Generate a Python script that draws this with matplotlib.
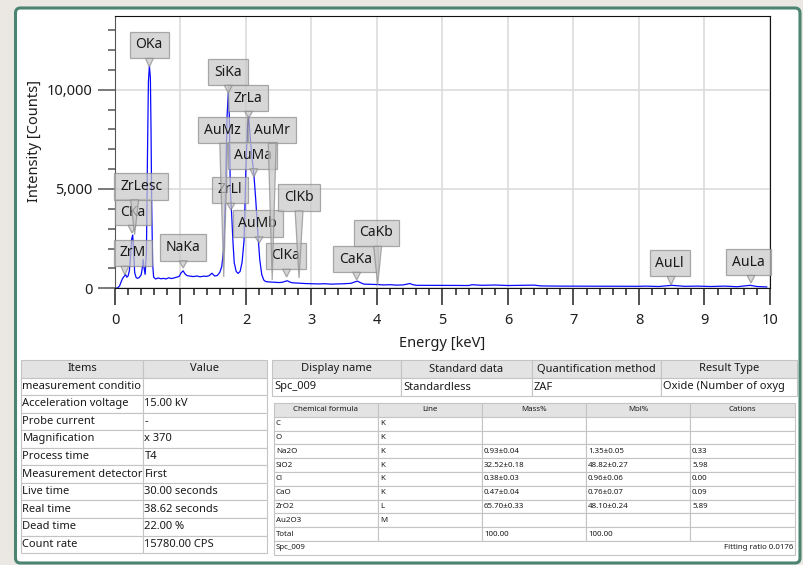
import matplotlib.pyplot as plt
from matplotlib.patches import Rectangle, Polygon, FancyBboxPatch
from matplotlib.ticker import MultipleLocator, FuncFormatter

plt.rcParams['font.family'] = ['Noto Sans', 'DejaVu Sans']

# EDS spectrum (keV, counts)
energy = [0.00, 0.04, 0.07, 0.10, 0.12, 0.14, 0.16, 0.18, 0.20, 0.22, 0.24, 0.255, 0.27, 0.285,
          0.30, 0.32, 0.34, 0.37, 0.40, 0.42, 0.43, 0.445, 0.46, 0.48, 0.495, 0.51, 0.525, 0.54,
          0.55, 0.56, 0.575, 0.59, 0.62, 0.66, 0.70, 0.74, 0.78, 0.82, 0.86, 0.90, 0.94, 0.98,
          1.01, 1.04, 1.07, 1.10, 1.15, 1.20, 1.25, 1.30, 1.35, 1.40, 1.44, 1.48, 1.52, 1.56,
          1.60, 1.63, 1.66, 1.69, 1.71, 1.73, 1.745, 1.76, 1.78, 1.80, 1.82, 1.85, 1.88, 1.91,
          1.94, 1.97, 2.00, 2.02, 2.04, 2.06, 2.09, 2.12, 2.15, 2.18, 2.21, 2.24, 2.27, 2.30,
          2.35, 2.40, 2.45, 2.50, 2.55, 2.60, 2.63, 2.66, 2.70, 2.75, 2.80, 2.85, 2.90, 3.00,
          3.10, 3.20, 3.30, 3.40, 3.50, 3.60, 3.66, 3.70, 3.75, 3.80, 3.90, 4.00, 4.10, 4.20,
          4.30, 4.40, 4.50, 4.55, 4.60, 4.80, 5.00, 5.20, 5.40, 5.45, 5.60, 5.80, 6.00, 6.20,
          6.40, 6.50, 6.80, 7.10, 7.40, 7.70, 8.00, 8.10, 8.30, 8.50, 8.70, 8.90, 9.10, 9.30,
          9.50, 9.70, 9.80, 9.95]
counts = [0, 20, 120, 380, 520, 600, 700, 560, 620, 900, 1700, 2500, 2680, 1900,
          800, 560, 500, 540, 680, 1100, 1450, 1000, 700, 1800, 6500, 10400, 11200, 10600,
          8000, 4200, 1200, 560, 470, 520, 480, 500, 470, 530, 490, 520, 560, 600,
          780, 880, 720, 640, 610, 590, 620, 580, 610, 600, 640, 760, 620, 640,
          800, 1100, 2000, 5200, 8600, 9850, 8700, 5000, 3800, 2400, 1300, 850, 750, 850,
          1300, 2400, 6200, 8000, 8650, 7800, 6600, 5750, 4400, 2800, 1450, 700, 420, 340,
          320, 310, 300, 290, 300, 350, 380, 330, 280, 270, 260, 250, 240, 230,
          220, 230, 210, 220, 230, 250, 320, 360, 280, 210, 200, 190, 170, 180,
          160, 170, 240, 180, 150, 150, 150, 145, 140, 180, 150, 165, 140, 150,
          160, 120, 110, 110, 105, 100, 100, 110, 90, 150, 100, 110, 90, 110,
          80, 150, 90, 70]

# peak identification
peak_names = ['ZrM', 'CKa', 'ZrLesc', 'OKa', 'NaKa', 'AuMz', 'SiKa', 'ZrLl', 'ZrLa',
              'AuMr', 'AuMa', 'AuMb', 'ClKa', 'ClKb', 'CaKa', 'CaKb', 'AuLl', 'AuLa']
peak_energy = [0.15, 0.26, 0.30, 0.525, 1.04, 1.66, 1.73, 1.77, 2.04,
               2.40, 2.12, 2.20, 2.62, 2.81, 3.69, 4.01, 8.49, 9.71]
peak_tip = [670, 2780, 2700, 11140, 1020, 570, 9830, 3940, 8570,
            420, 5600, 2280, 570, 520, 420, 170, 170, 270]
# callout box centres (keV, counts)
box_x = [0.275, 0.275, 0.40, 0.52, 1.04, 1.64, 1.725, 1.76, 2.03,
         2.40, 2.10, 2.18, 2.61, 2.81, 3.67, 3.99, 8.47, 9.67]
box_y = [1780, 3840, 5125, 12250, 2055, 7970, 10890, 4950, 9580,
         7970, 6690, 3260, 1630, 4570, 1475, 2785, 1270, 1320]

# measurement conditions
cond_items = ['measurement conditio', 'Acceleration voltage', 'Probe current', 'Magnification',
              'Process time', 'Measurement detector', 'Live time', 'Real time', 'Dead time',
              'Count rate']
cond_values = ['', '15.00 kV', '-', 'x 370', 'T4', 'First', '30.00 seconds', '38.62 seconds',
               '22.00 %', '15780.00 CPS']

info_header = ['Display name', 'Standard data', 'Quantification method', 'Result Type']
info_row = ['Spc_009', 'Standardless', 'ZAF', 'Oxide (Number of oxyg']

chem_header = ['Chemical formula', 'Line', 'Mass%', 'Mol%', 'Cations']
formula = ['C', 'O', 'Na2O', 'SiO2', 'Cl', 'CaO', 'ZrO2', 'Au2O3', 'Total']
line = ['K', 'K', 'K', 'K', 'K', 'K', 'L', 'M', '']
mass = ['', '', '0.93±0.04', '32.52±0.18', '0.38±0.03', '0.47±0.04', '65.70±0.33', '', '100.00']
mol = ['', '', '1.35±0.05', '48.82±0.27', '0.96±0.06', '0.76±0.07', '48.10±0.24', '', '100.00']
cations = ['', '', '0.33', '5.98', '0.00', '0.09', '5.89', '', '']

fig = plt.figure(figsize=(8.04, 5.65), dpi=100, facecolor='#ebe8e4')

# background layer in pixel coordinates
bg = fig.add_axes([0, 0, 1, 1], zorder=0)
bg.set_xlim(0, 804)
bg.set_ylim(565, 0)
bg.axis('off')
bg.add_patch(FancyBboxPatch((15.5, 8), 784.5, 555, boxstyle='round,pad=0,rounding_size=5',
                            fc='white', ec='#4b8470', lw=2.2))

# spectrum
ax = fig.add_axes([115 / 804, 1 - 288.3 / 565, 655 / 804, 272.3 / 565], zorder=1)
ax.plot(energy, counts, color='#0a0aff', lw=0.9, zorder=2)
ax.set_xlim(0, 10)
ax.set_ylim(0, 13710)
ax.xaxis.set_major_locator(MultipleLocator(1))
ax.xaxis.set_minor_locator(MultipleLocator(0.2))
ax.yaxis.set_major_locator(MultipleLocator(5000))
ax.yaxis.set_minor_locator(MultipleLocator(1000))
ax.yaxis.set_major_formatter(FuncFormatter(lambda v, p: f'{int(v):,}'))
ax.grid(True, which='major', color='#dcdcdc', lw=1.2)
ax.set_axisbelow(True)
for s in ['top', 'right', 'bottom']:
    ax.spines[s].set_color('#111111')
ax.spines['left'].set_color('#555555')
ax.tick_params(axis='x', which='major', length=12, width=1.1, color='#222222', labelsize=10.5, pad=6,
               labelcolor='#1e1e1e')
ax.tick_params(axis='x', which='minor', length=5, width=1.1, color='#222222')
ax.tick_params(axis='y', which='major', length=12, width=1.1, color='#555555', labelsize=10.5, pad=4,
               labelcolor='#1e1e1e')
ax.tick_params(axis='y', which='minor', length=5, width=1.1, color='#555555')
ax.set_xlabel('Energy [keV]', fontsize=10.5, color='#1e1e1e')
ax.set_ylabel('Intensity [Counts]', fontsize=10.5, color='#1e1e1e')
ax.xaxis.set_label_coords(0.5, -0.175)
ax.yaxis.set_label_coords(-0.112, 0.54)

# peak callouts
box_fc, box_ec = '#c8c8c8', '#8c8c8c'
labels = []
for name, xb, yb in zip(peak_names, box_x, box_y):
    t = ax.text(xb, yb, name, ha='center', va='center', fontsize=10, color='#1a1a1a', zorder=4,
                bbox=dict(boxstyle='square,pad=0.42', fc=box_fc, ec=box_ec, lw=0.9, alpha=0.72))
    labels.append(t)
fig.canvas.draw()
rend = fig.canvas.get_renderer()
inv = ax.transData.inverted()
for t, e, tip in zip(labels, peak_energy, peak_tip):
    bb = t.get_bbox_patch().get_window_extent(rend)
    ybot = inv.transform((0, bb.y0))[1]
    ax.add_patch(Polygon([(e - 0.06, ybot), (e + 0.06, ybot), (e, tip)], closed=True,
                         fc=box_fc, ec=box_ec, lw=0.9, alpha=0.72, zorder=4))

# tables
grid_c = '#c4c4c4'
head_c = '#e3e3e3'
txt_c = '#1a1a1a'


def cell(x0, x1, y0, y1, fc):
    bg.add_patch(Rectangle((x0, y0), x1 - x0, y1 - y0, fc=fc, ec=grid_c, lw=0.8))


# measurement conditions table
lx = [21, 143, 267]
ltop, lh = 360, 17.55
for c, h in enumerate(['Items', 'Value']):
    cell(lx[c], lx[c + 1], ltop, ltop + lh, head_c)
    bg.text((lx[c] + lx[c + 1]) / 2, ltop + lh / 2, h, ha='center', va='center', fontsize=8, color=txt_c)
for r, (k, v) in enumerate(zip(cond_items, cond_values)):
    y0 = ltop + (r + 1) * lh
    for c, s in enumerate([k, v]):
        cell(lx[c], lx[c + 1], y0, y0 + lh, 'white')
        bg.text(lx[c] + 1.5, y0 + lh / 2, s, ha='left', va='center', fontsize=8, color=txt_c)

# display name table
ix = [272, 401, 532, 661, 797]
itop, ih = 360, 18
for c, (h, s) in enumerate(zip(info_header, info_row)):
    cell(ix[c], ix[c + 1], itop, itop + ih, head_c)
    cell(ix[c], ix[c + 1], itop + ih, itop + 2 * ih, 'white')
    bg.text((ix[c] + ix[c + 1]) / 2, itop + ih / 2, h, ha='center', va='center', fontsize=8, color=txt_c)
    bg.text(ix[c] + 2, itop + 1.5 * ih, s, ha='left', va='center', fontsize=8, color=txt_c)

# composition table
cx = [274, 378, 482, 586, 690, 795]
ctop, ch = 403, 13.8
for c, h in enumerate(chem_header):
    cell(cx[c], cx[c + 1], ctop, ctop + ch, head_c)
    bg.text((cx[c] + cx[c + 1]) / 2, ctop + ch / 2, h, ha='center', va='center', fontsize=5.7, color=txt_c)
for r, row in enumerate(zip(formula, line, mass, mol, cations)):
    y0 = ctop + (r + 1) * ch
    for c, s in enumerate(row):
        cell(cx[c], cx[c + 1], y0, y0 + ch, 'white')
        bg.text(cx[c] + 2, y0 + ch / 2, s, ha='left', va='center', fontsize=5.7, color=txt_c)
fy = ctop + (len(formula) + 1) * ch
cell(cx[0], cx[-1], fy, fy + ch, 'white')
bg.text(cx[0] + 2, fy + ch / 2, 'Spc_009', ha='left', va='center', fontsize=5.7, color=txt_c)
bg.text(cx[-1] - 2, fy + ch / 2, 'Fitting ratio 0.0176', ha='right', va='center', fontsize=5.7, color=txt_c)

fig.savefig('out.png', dpi=100, facecolor=fig.get_facecolor())
